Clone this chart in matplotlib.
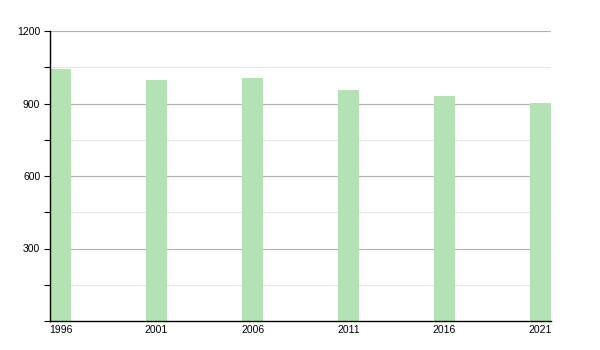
import numpy as np
from matplotlib import pyplot as plt
from matplotlib.ticker import MultipleLocator

years = [1996, 2001, 2006, 2011, 2016, 2021]
population = [1043, 997, 1005, 956, 931, 903]
bar_w = 1.1

plt.rcParams['font.family'] = ['Liberation Sans', 'DejaVu Sans']

fig = plt.figure(figsize=(6, 3.5), dpi=100)
ax = fig.add_axes([50 / 600, 29 / 350, 501 / 600, 290 / 350])

ax.bar(years, population, width=bar_w, align='edge', color='#b3e3b3', zorder=2)

ax.set_xlim(1996, 2021 + bar_w)
ax.set_ylim(0, 1200)
ax.set_yticks([300, 600, 900, 1200])
ax.yaxis.set_minor_locator(MultipleLocator(150))
ax.grid(axis='y', which='major', color='#b0b0b0', linewidth=0.8, zorder=0)
ax.grid(axis='y', which='minor', color='#e6e6e6', linewidth=0.8, zorder=0)

ax.set_xticks(np.array(years) + bar_w / 2)
ax.set_xticklabels([str(y) for y in years])
ax.tick_params(axis='x', length=0, pad=3, labelsize=7.5)
ax.tick_params(axis='y', which='major', length=4, width=0.8, labelsize=7.5, pad=3)
ax.tick_params(axis='y', which='minor', length=4, width=0.8)

for s in ['top', 'right']:
    ax.spines[s].set_visible(False)
ax.spines['left'].set_linewidth(1)
ax.spines['bottom'].set_linewidth(1)

fig.savefig('out.png', dpi=100)
